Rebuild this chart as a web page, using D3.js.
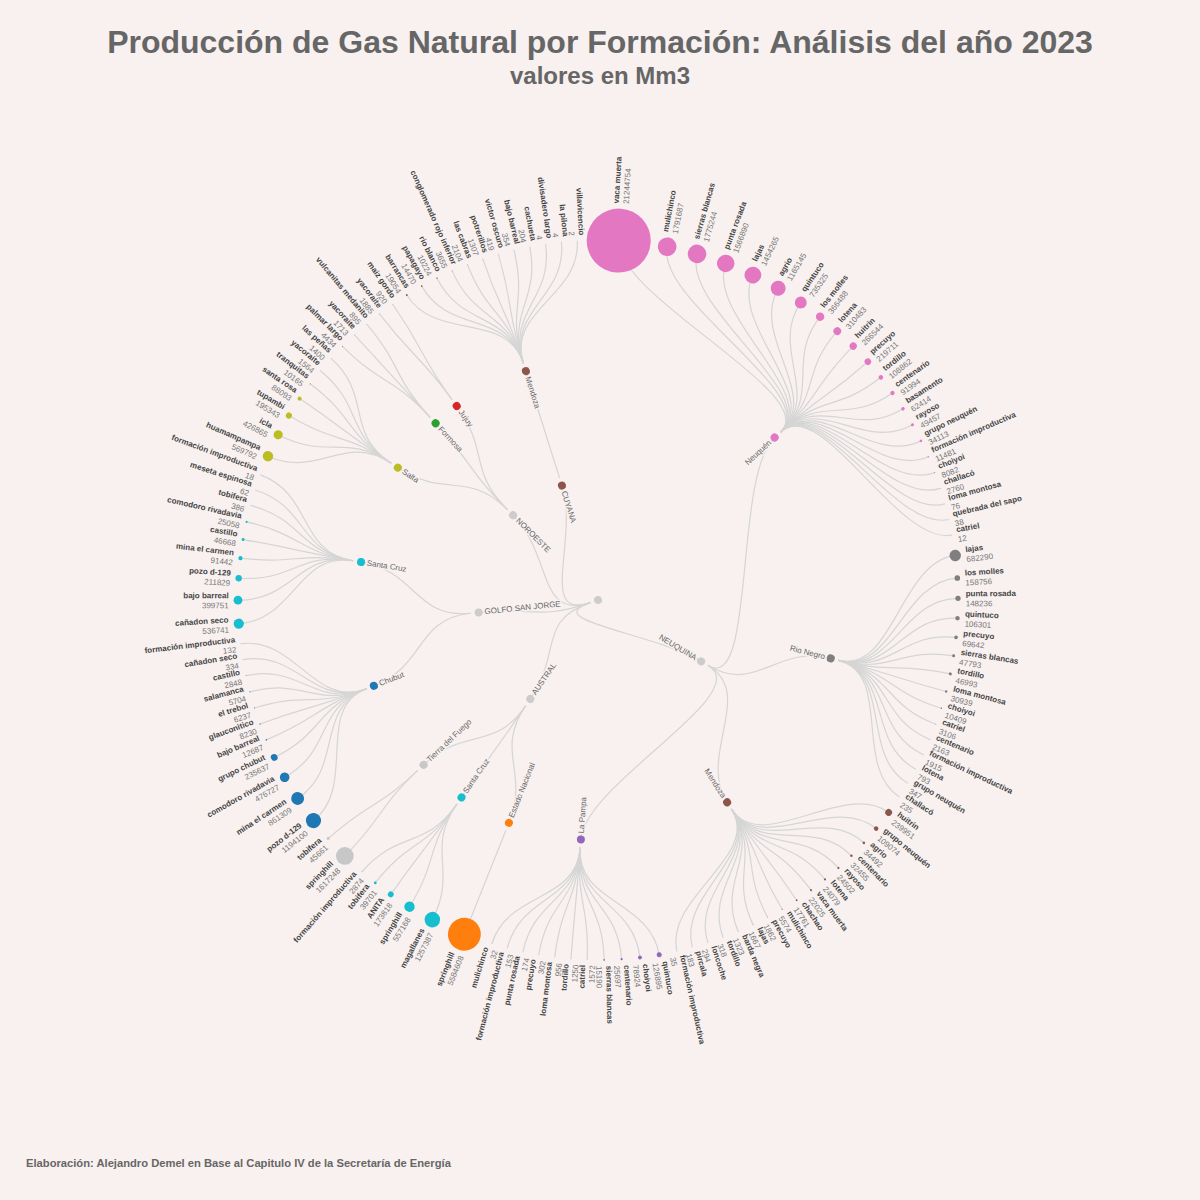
<!DOCTYPE html>
<html>
<head>
<meta charset="utf-8">
<script src="https://cdn.jsdelivr.net/npm/d3@7"></script>
<style>
  html, body { margin: 0; padding: 0; background: #f8f1f0; }
  svg { display: block; font-family: "Liberation Sans", Arial, sans-serif; }
</style>
</head>
<body>
<div id="chart"></div>
<script>
// Gas natural 2023: cuenca > provincia > formacion (valores en Mm3)
const neuquenNames = ['vaca muerta','mulichinco','sierras blancas','punta rosada','lajas','agrio','quintuco','los molles','lotena','huitrin','precuyo','tordillo','centenario','basamento','rayoso','grupo neuquén','formación improductiva','choiyoi','challacó','loma montosa','quebrada del sapo','catriel'];
const neuquenValues = [21244754,1791687,1775244,1566890,1454265,1165145,735325,366488,310483,266544,219711,108862,91994,62414,49457,34113,11481,8082,2760,76,38,12];

const rioNegroNames = ['lajas','los molles','punta rosada','quintuco','precuyo','sierras blancas','tordillo','loma montosa','choiyoi','catriel','centenario','formación improductiva','lotena','grupo neuquén','challacó'];
const rioNegroValues = [682290,158756,148236,106301,69642,47793,46993,30939,10409,3106,2163,1915,793,347,235];

const mendozaNeuNames = ['huitrin','grupo neuquén','agrio','centenario','rayoso','lotena','vaca muerta','chachao','mulichinco','precuyo','lajas','barda negra','tordillo','loncoche','pircala','formación improductiva'];
const mendozaNeuValues = [239951,109074,34492,32455,24502,24079,22025,17761,5574,1862,1667,1323,318,294,183,35];

const laPampaNames = ['quintuco','choiyoi','centenario','sierras blancas','catriel','tordillo','loma montosa','precuyo','punta rosada','formación improductiva','mulichinco'];
const laPampaValues = [126895,78924,25697,15190,1572,1250,956,302,174,153,32];

const estadoNames = ['springhill'];
const estadoValues = [5584608];

const santaCruzAusNames = ['magallanes','springhill','ANITA','tobifera','formación improductiva'];
const santaCruzAusValues = [1257387,557168,173818,39701,2874];

const fuegoNames = ['springhill','tobifera'];
const fuegoValues = [1617248,45661];

const chubutNames = ['pozo d-129','mina el carmen','comodoro rivadavia','grupo chubut','bajo barreal','glauconitico','el trebol','salamanca','castillo','cañadon seco','formación improductiva'];
const chubutValues = [1194100,861309,476727,235637,12687,8230,6237,5704,2848,334,132];

const santaCruzGsjNames = ['cañadon seco','bajo barreal','pozo d-129','mina el carmen','castillo','comodoro rivadavia','tobifera','meseta espinosa','formación improductiva'];
const santaCruzGsjValues = [536741,399751,211829,91442,46668,25058,386,62,18];

const saltaNames = ['huamampampa','icla','tupambi','santa rosa','tranquitas','yacoraite','las peñas'];
const saltaValues = [569792,426865,195343,88093,10165,1564,1400];

const formosaNames = ['palmar largo','yacoraite','vulcanitas medanito'];
const formosaValues = [4434,1713,895];

const jujuyNames = ['yacoraite','maiz gordo'];
const jujuyValues = [1885,920];

const mendozaCuyNames = ['barrancas','papagayo','rio blanco','conglomerado rojo inferior','las cabras','potrerillos','victor oscuro','bajo barreal','cachueta','divisadero largo','la pilona','villavicencio'];
const mendozaCuyValues = [19054,14470,10224,3655,2104,1307,419,354,204,4,4,2];

const provinceNames = ['Neuquén','Rio Negro','Mendoza','CUYANA','La Pampa','Estado Nacional','Santa Cruz','Tierra del Fuego','Chubut','Salta','Formosa','Jujuy'];
const provinceColors = ['#e377c2','#7f7f7f','#8c564b','#8c564b','#9467bd','#ff7f0e','#17becf','#c7c7c7','#1f77b4','#bcbd22','#2ca02c','#d62728'];

const province = (name, names, values) => ({
  name,
  children: names.map((n, i) => ({name: n, value: values[i]}))
});

const treeData = {
  name: '',
  children: [
    {name: 'NEUQUINA', children: [
      province('Neuquén', neuquenNames, neuquenValues),
      province('Rio Negro', rioNegroNames, rioNegroValues),
      province('Mendoza', mendozaNeuNames, mendozaNeuValues),
      province('La Pampa', laPampaNames, laPampaValues)
    ]},
    {name: 'AUSTRAL', children: [
      province('Estado Nacional', estadoNames, estadoValues),
      province('Santa Cruz', santaCruzAusNames, santaCruzAusValues),
      province('Tierra del Fuego', fuegoNames, fuegoValues)
    ]},
    {name: 'GOLFO SAN JORGE', children: [
      province('Chubut', chubutNames, chubutValues),
      province('Santa Cruz', santaCruzGsjNames, santaCruzGsjValues)
    ]},
    {name: 'NOROESTE', children: [
      province('Salta', saltaNames, saltaValues),
      province('Formosa', formosaNames, formosaValues),
      province('Jujuy', jujuyNames, jujuyValues)
    ]},
    {name: 'CUYANA', children: [
      province('Mendoza', mendozaCuyNames, mendozaCuyValues)
    ]}
  ]
};

const width = 1200, height = 1200;
const cx = 598, cy = 600, radius = 360;
const background = '#f8f1f0';

const color = d3.scaleOrdinal(provinceNames, provinceColors).unknown('#ccc');
const root = d3.hierarchy(treeData);
const maxValue = d3.max(root.leaves(), d => d.data.value);
const size = d3.scaleSqrt().domain([0, maxValue]).range([0, 32]);

const nodeRadius = d => d.children ? 4 : size(d.data.value);

d3.cluster()
  .size([2 * Math.PI, radius])
  .separation((a, b) => 1 + 0.05 * (nodeRadius(a) + nodeRadius(b)))(root);

const svg = d3.select('#chart').append('svg')
  .attr('width', width)
  .attr('height', height)
  .attr('viewBox', [0, 0, width, height]);

svg.append('rect').attr('width', width).attr('height', height).attr('fill', background);

svg.append('text')
  .attr('x', 600).attr('y', 53)
  .attr('text-anchor', 'middle')
  .attr('font-size', 32)
  .attr('font-weight', 'bold')
  .attr('fill', '#666')
  .text('Producción de Gas Natural por Formación: Análisis del año 2023');

svg.append('text')
  .attr('x', 600).attr('y', 84)
  .attr('text-anchor', 'middle')
  .attr('font-size', 24)
  .attr('font-weight', 'bold')
  .attr('fill', '#666')
  .text('valores en Mm3');

svg.append('text')
  .attr('x', 26).attr('y', 1167)
  .attr('font-size', 11.2)
  .attr('font-weight', 'bold')
  .attr('fill', '#666')
  .text('Elaboración: Alejandro Demel en Base al Capitulo IV de la Secretaría de Energía');

const g = svg.append('g').attr('transform', `translate(${cx},${cy})`);

// the links leave each parent a bit beyond the node, on the outer side
const link = d3.linkRadial()
  .angle(d => d.x)
  .radius(d => d.y)
  .source(d => ({x: d.source.x, y: d.source.y + 8}));

g.append('g')
  .attr('fill', 'none')
  .attr('stroke', '#d5d5d5')
  .attr('stroke-width', 1.2)
  .selectAll('path')
  .data(root.links())
  .join('path')
  .attr('d', link);

const place = d => `rotate(${d.x * 180 / Math.PI - 90}) translate(${d.y},0)`;

const nodeColor = d => d.depth === 3 ? color(d.parent.data.name) : color(d.data.name);

g.append('g')
  .selectAll('circle')
  .data(root.descendants())
  .join('circle')
  .attr('transform', place)
  .attr('r', nodeRadius)
  .attr('fill', nodeColor);

const labels = g.append('g')
  .attr('font-size', 8)
  .selectAll('text')
  .data(root.descendants().filter(d => d.depth > 0))
  .join('text')
  .attr('transform', d => `${place(d)} rotate(${d.x >= Math.PI ? 180 : 0})`)
  .attr('text-anchor', d => d.x < Math.PI === !d.children ? 'start' : 'end');

const offset = d => {
  const dx = d.children ? 6 : nodeRadius(d) + 5;
  return d.x < Math.PI === !d.children ? dx : -dx;
};

// only the inner labels need a halo, they sit on top of the links
labels.filter(d => d.children)
  .attr('x', offset)
  .attr('dy', '0.31em')
  .attr('fill', '#666')
  .attr('stroke', background)
  .attr('stroke-width', 3)
  .attr('stroke-linejoin', 'round')
  .attr('paint-order', 'stroke')
  .text(d => d.data.name);

labels.filter(d => !d.children)
  .each(function(d) {
    const t = d3.select(this);
    t.append('tspan').attr('x', offset(d)).attr('y', -2)
      .attr('font-weight', 'bold').attr('fill', '#444').text(d.data.name);
    t.append('tspan').attr('x', offset(d)).attr('y', 8)
      .attr('fill', '#777').text(d.data.value);
  });
</script>
</body>
</html>
